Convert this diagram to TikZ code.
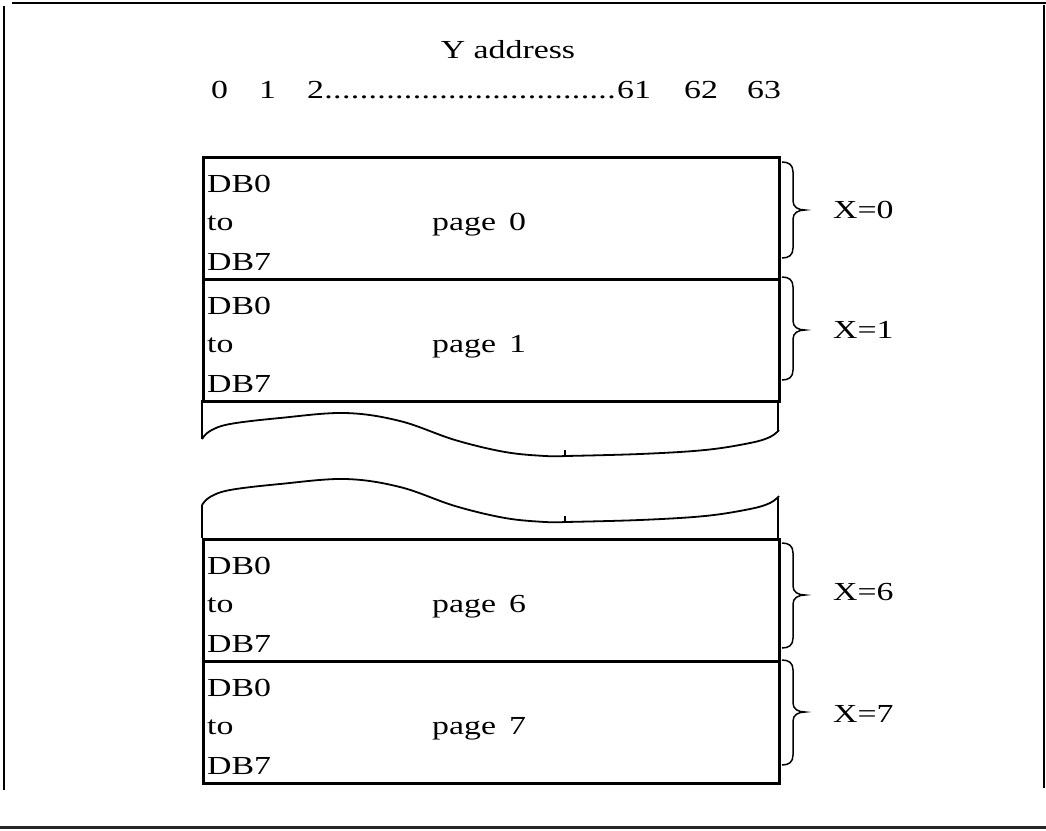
\documentclass[tikz,border=0pt]{standalone}
\usepackage{fontspec}
\setmainfont[FakeStretch=1.3]{Liberation Serif}
\begin{document}
\begin{tikzpicture}[x=1pt,y=-1pt,
  font=\fontsize{26}{30}\selectfont,
  frameline/.style={line width=2pt},
  pagebox/.style={draw,line width=3pt,minimum width=576pt,minimum height=122pt,inner sep=0pt,anchor=north west},
  lbl/.style={anchor=base west,inner sep=0pt},
  bracepath/.style={line width=1.5pt},
  wavepath/.style={line width=1.8pt}]
\useasboundingbox (0,0) rectangle (1046,830);
% frame
\draw[frameline] (12,3) -- (1046,3);
\draw[frameline] (4,6) -- (4,790);
\draw[frameline] (1044,5) -- (1044,788);
\draw[line width=3pt,black!85] (0,827) -- (1046,827);
% header
\node[anchor=base,inner sep=0pt] (ya) at (508,58) {Y address};
\node[lbl] (n0) at (211,98) {0};
\node[lbl] (n1) at (259,98) {1};
\node[lbl] (n2) at (307,98) {2\hbox to 292pt{\xleaders\hbox to 8.6pt{\hss.\hss}\hfill}};
\node[lbl] (n61) at (617,98) {61};
\node[lbl] (n62) at (684,98) {62};
\node[lbl] (n63) at (747,98) {63};
% page boxes
\foreach \t/\n/\k in {156/0/218, 278/1/338, 538/6/600, 660/7/722}{
  \node[pagebox] (p\n) at (202,\t) {};
  \node[lbl] (a\n) at (207,\t+36) {DB0};
  \node[lbl] (b\n) at (207,\t+74) {to};
  \node[lbl] (c\n) at (207,\t+114) {DB7};
  \node[lbl] (g\n) at (432,\t+74) {page\hspace{13pt}\n};
  \node[lbl] (x\n) at (833,\k) {X=\n};
}
% braces
\foreach \a/\m/\b in {162/210/258, 277/330/380, 543/595/648, 660/712/765}{
  \draw[bracepath] (782,\a) .. controls (789,\a) and (793,\a+3) .. (793,\a+10)
    -- (793,\m-9) .. controls (793,\m-3) and (798,\m) .. (805,\m)
    .. controls (798,\m) and (793,\m+3) .. (793,\m+9)
    -- (793,\b-10) .. controls (793,\b-3) and (789,\b) .. (782,\b);
}
% break waves
\draw[wavepath] (202,400) -- (202,439);
\draw[wavepath] (778,400) -- (778,432);
\draw[wavepath] (202,505) -- (202,538);
\draw[wavepath] (778,498) -- (778,538);
\foreach \s in {0,66}{
  \begin{scope}[shift={(0,\s)}]
    \draw[wavepath] plot[smooth,tension=0.6] coordinates {(202,439) (210,431) (230,424) (280,418) (345,413) (400,421) (455,440) (505,452) (545,456) (565,456)};
    \draw[wavepath] plot[smooth,tension=0.6] coordinates {(565,456) (640,454) (705,450) (750,443) (770,437) (779,430)};
    \draw[line width=1.2pt] (565,450) -- (565,457);
  \end{scope}
}
\end{tikzpicture}
\end{document}
